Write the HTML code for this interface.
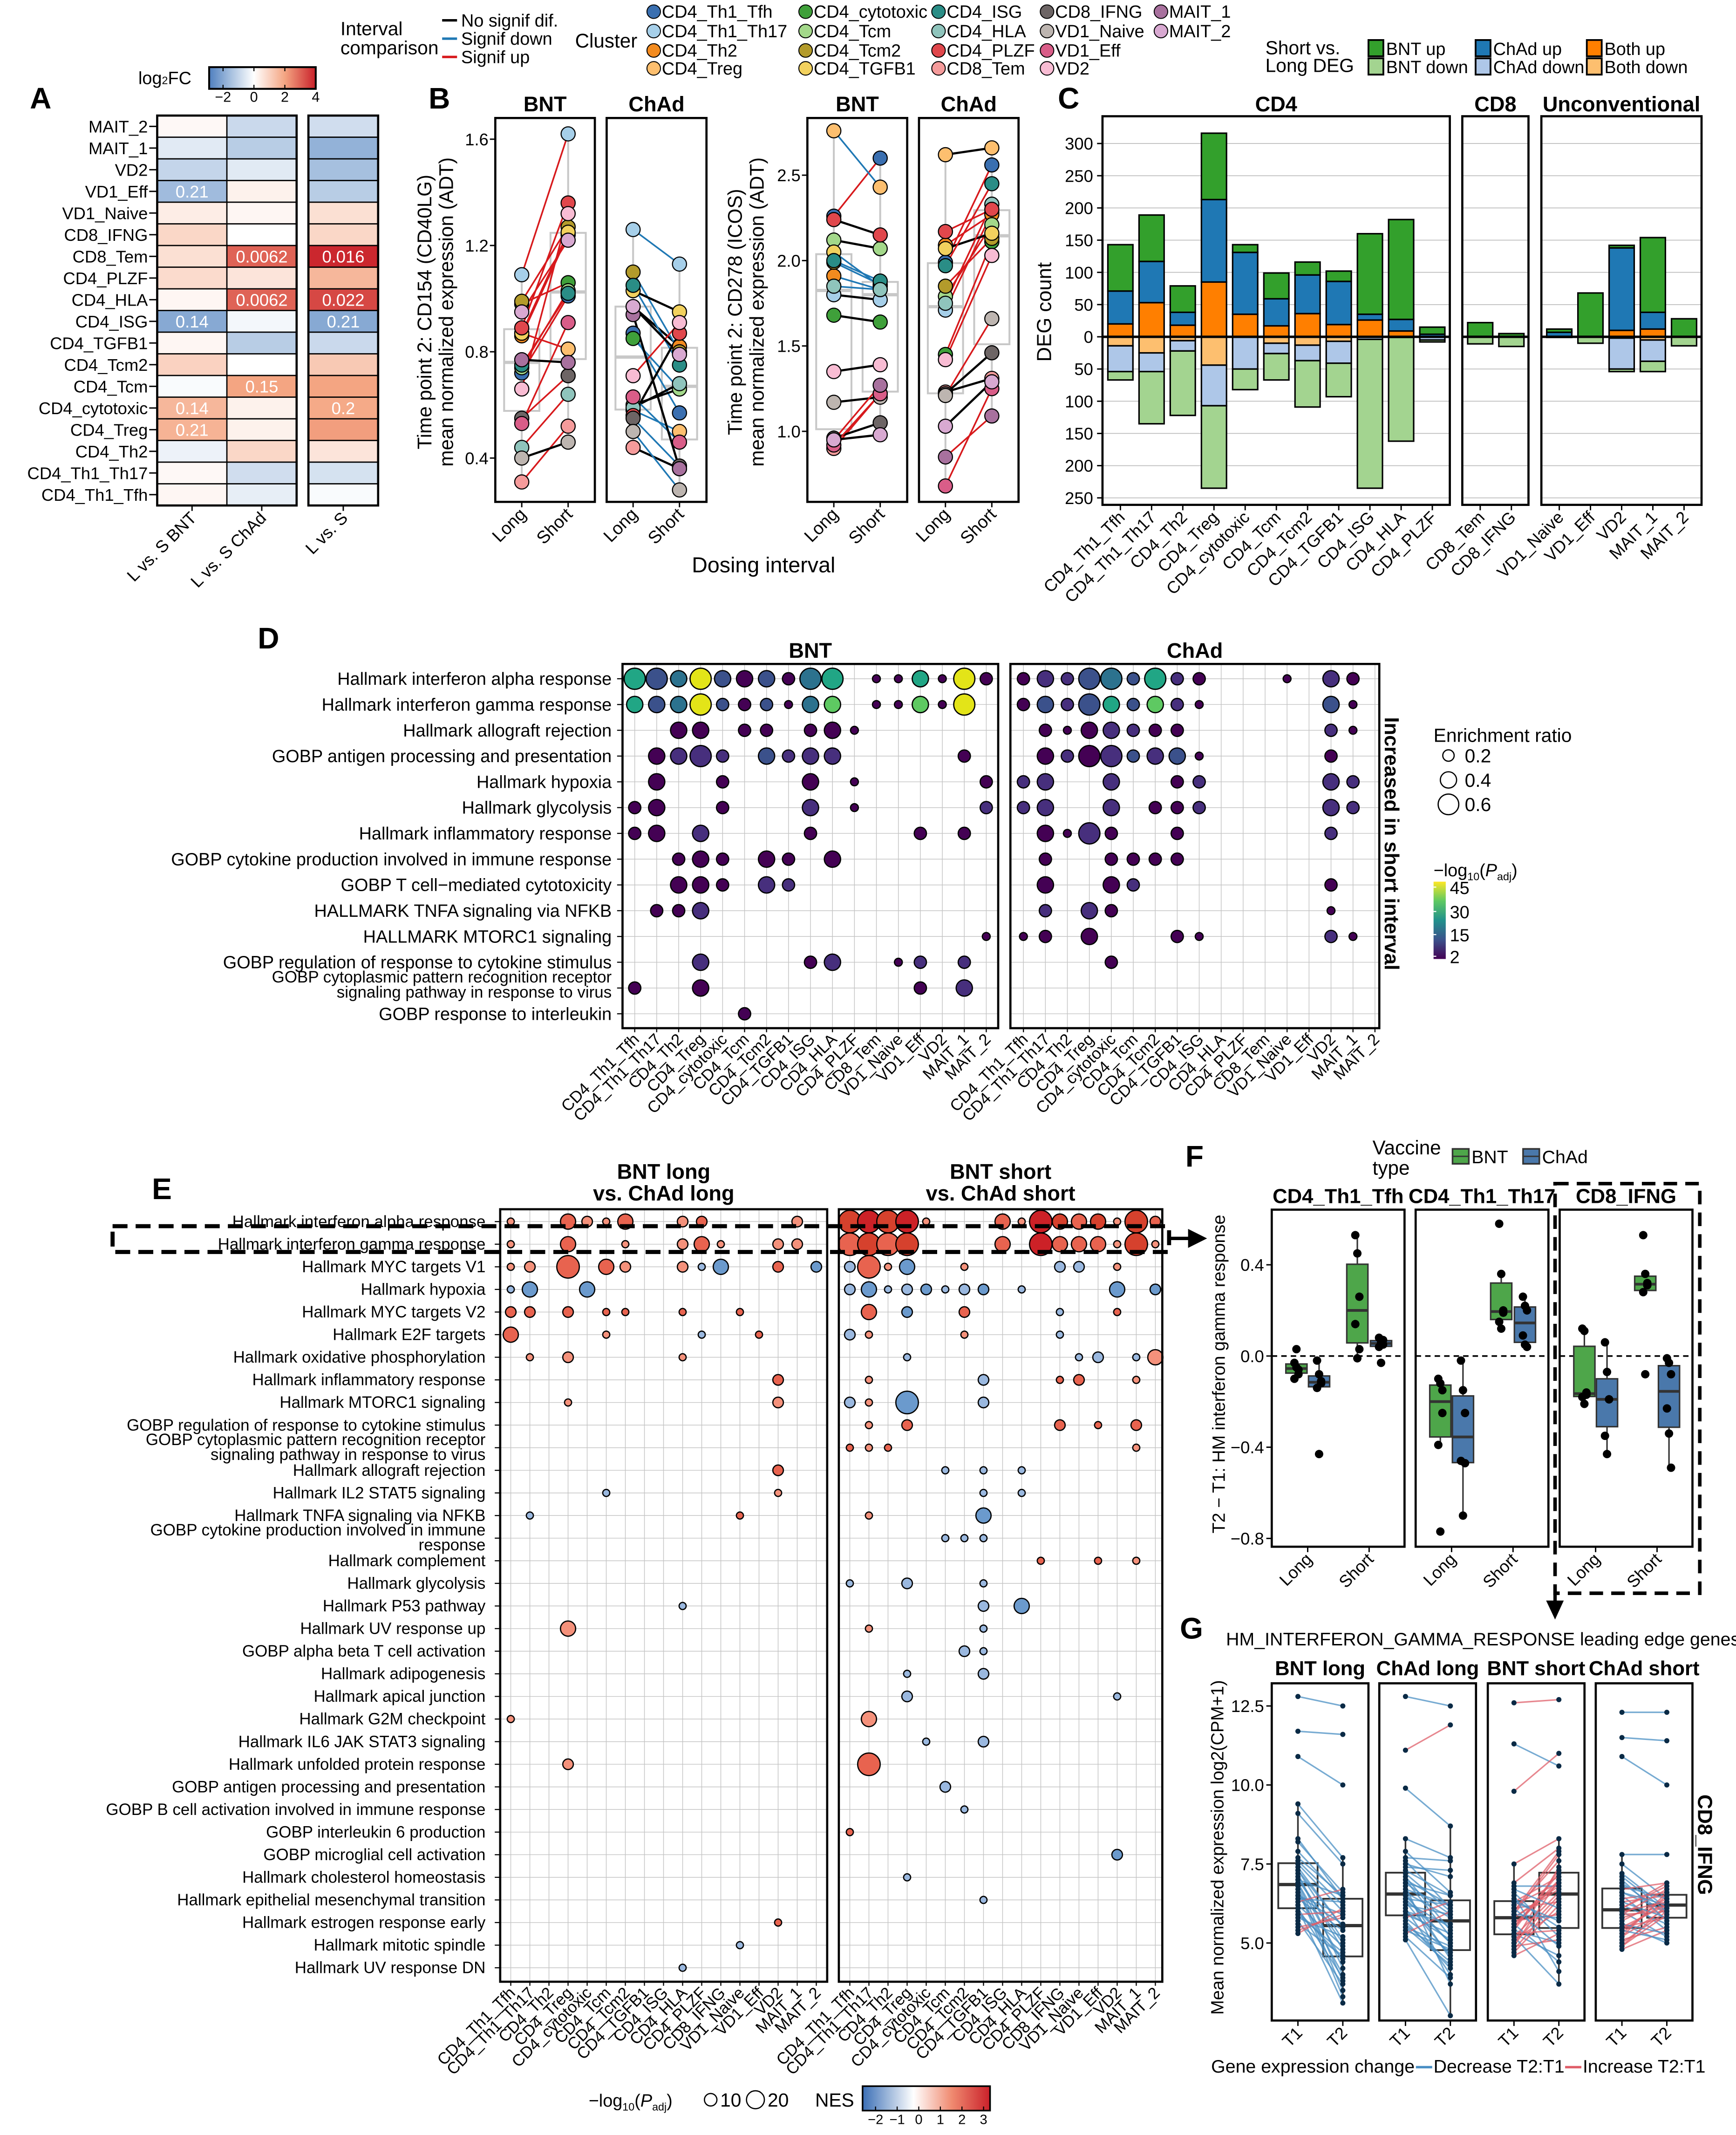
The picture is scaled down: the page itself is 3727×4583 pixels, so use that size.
<!DOCTYPE html>
<html><head><meta charset="utf-8">
<style>
html,body{margin:0;padding:0;background:#fff;}
svg{display:block;font-family:"Liberation Sans Narrow","Liberation Sans",sans-serif;}
.n{font-family:"Liberation Sans Narrow","Liberation Sans",sans-serif;}
.w{font-family:"Liberation Sans",sans-serif;}
</style></head>
<body>
<svg id="fig" xmlns="http://www.w3.org/2000/svg" width="3727" height="4583" viewBox="0 0 1280 1574">
<rect x="0" y="0" width="1280" height="1574" fill="#fff"/>
</svg>
<script>
// ---------- DATA ----------
const clusterNames=['CD4_Th1_Tfh','CD4_Th1_Th17','CD4_Th2','CD4_Treg','CD4_cytotoxic','CD4_Tcm','CD4_Tcm2','CD4_TGFB1','CD4_ISG','CD4_HLA','CD4_PLZF','CD8_Tem','CD8_IFNG','VD1_Naive','VD1_Eff','VD2','MAIT_1','MAIT_2'];
const clusterColors=['#3a6fb0','#a6cfe9','#f38b1f','#fdbf6f','#3fa03a','#a3d88a','#b39b2b','#f2d15e','#2a8d86','#8fc4bc','#e0474c','#f59b9b','#6d6565','#bdb5b0','#d95d88','#f8bcd3','#a8719e','#d8a9d1'];

// Panel A
const aRows=['MAIT_2','MAIT_1','VD2','VD1_Eff','VD1_Naive','CD8_IFNG','CD8_Tem','CD4_PLZF','CD4_HLA','CD4_ISG','CD4_TGFB1','CD4_Tcm2','CD4_Tcm','CD4_cytotoxic','CD4_Treg','CD4_Th2','CD4_Th1_Th17','CD4_Th1_Tfh'];
const aCols=['L vs. S BNT','L vs. S ChAd','L vs. S'];
const aBNT=[0.15,-0.5,-1.0,-1.6,0.4,0.9,0.7,0.8,0.2,-2.0,0.2,1.0,-0.1,1.6,1.7,-0.3,0.15,0.2];
const aChAd=[-0.9,-1.2,-0.5,0.3,0.2,0.0,3.0,0.6,3.0,-0.2,-1.2,0.0,2.0,0.3,0.3,0.9,-0.8,-0.4];
const aAll=[-0.8,-1.8,-1.5,-1.2,0.7,0.9,3.9,1.6,3.4,-2.0,-0.9,1.2,2.0,1.9,2.1,0.6,-0.7,-0.1];
const aP1=['','','','0.21','','','','','','0.14','','','','0.14','0.21','','',''];
const aP2=['','','','','','','0.0062','','0.0062','','','','0.15','','','','',''];
const aP3=['','','','','','','0.016','','0.022','0.21','','','','0.2','','','',''];
const aTicks=[-2,0,2,4];

// Panel B
const b1Long=[0.72,1.09,0.86,0.87,0.98,0.74,0.99,0.87,0.75,0.44,0.89,0.31,0.55,0.40,0.53,0.66,0.77,0.95];
const b1Short=[1.01,1.62,1.24,0.81,1.06,1.03,1.27,1.25,1.02,0.64,1.36,0.52,0.71,0.46,0.91,1.32,0.76,1.22];
const b1Type=['u','u','u','u','u','u','u','u','u','u','u','u','u','n','u','u','n','u'];
const b2Long=[0.87,1.26,0.97,0.58,0.85,0.60,1.10,1.03,1.05,0.59,0.56,0.44,0.55,0.50,0.63,0.71,0.94,0.97];
const b2Short=[0.57,1.13,0.82,0.50,0.66,0.66,0.80,0.95,0.75,0.68,0.87,0.36,0.37,0.28,0.46,0.91,0.36,0.79];
const b2Type=['d','d','n','d','d','n','d','n','d','n','n','n','d','d','d','u','n','n'];
const b3Long=[2.26,1.80,1.91,2.76,1.68,2.12,1.99,2.05,2.00,1.85,2.24,0.90,0.96,1.17,0.92,1.35,0.95,0.95];
const b3Short=[2.60,1.77,1.83,2.43,1.64,2.07,1.86,1.85,1.88,1.83,2.15,1.22,1.05,1.20,1.22,1.39,1.27,0.98];
const b3Type=['u','n','d','d','n','n','d','d','d','d','n','u','n','n','u','n','u','n'];
const b4Long=[1.99,1.71,2.09,2.62,1.45,1.79,1.85,2.07,1.97,1.75,2.17,1.23,1.22,1.21,0.68,1.42,0.85,1.03];
const b4Short=[2.56,2.28,2.27,2.66,2.11,2.21,2.13,2.16,2.45,2.33,2.30,1.31,1.46,1.66,1.25,2.03,1.09,1.29];
const b4Type=['u','u','u','n','u','u','u','n','u','u','u','n','n','u','u','u','u','n'];
const b1Ticks=[0.4,0.8,1.2,1.6];
const b2Ticks=[1.0,1.5,2.0,2.5];

// Panel C
const cCats=['CD4_Th1_Tfh','CD4_Th1_Th17','CD4_Th2','CD4_Treg','CD4_cytotoxic','CD4_Tcm','CD4_Tcm2','CD4_TGFB1','CD4_ISG','CD4_HLA','CD4_PLZF','CD8_Tem','CD8_IFNG','VD1_Naive','VD1_Eff','VD2','MAIT_1','MAIT_2'];
const cUpBoth=[20,53,18,85,35,17,36,19,26,9,0,0,0,0,0,10,12,0];
const cUpChAd=[51,64,20,128,96,42,60,67,9,18,4,0,0,7,0,128,26,0];
const cUpBNT=[72,72,41,103,12,40,20,16,125,155,11,22,5,5,68,4,116,28];
const cDnBoth=[14,25,6,44,0,10,13,7,0,0,0,0,0,0,0,2,5,0];
const cDnChAd=[40,29,16,63,50,16,24,34,4,1,5,0,0,0,0,48,33,0];
const cDnBNT=[13,81,100,128,32,41,72,52,231,161,3,11,15,1,10,4,16,14];
const cUpTicks=[0,50,100,150,200,250,300];
const cDnTicks=[50,100,150,200,250];

// Panel D
const dCols=['CD4_Th1_Tfh','CD4_Th1_Th17','CD4_Th2','CD4_Treg','CD4_cytotoxic','CD4_Tcm','CD4_Tcm2','CD4_TGFB1','CD4_ISG','CD4_HLA','CD4_PLZF','CD8_Tem','VD1_Naive','VD1_Eff','VD2','MAIT_1','MAIT_2'];
const dRows=['Hallmark interferon alpha response','Hallmark interferon gamma response','Hallmark allograft rejection','GOBP antigen processing and presentation','Hallmark hypoxia','Hallmark glycolysis','Hallmark inflammatory response','GOBP cytokine production involved in immune response','GOBP T cell\u2212mediated cytotoxicity','HALLMARK TNFA signaling via NFKB','HALLMARK MTORC1 signaling','GOBP regulation of response to cytokine stimulus','GOBP cytoplasmic pattern recognition receptor|signaling pathway in response to virus','GOBP response to interleukin'];
const dBNT=[
"0:4n 1:4i 2:3t 3:4y 4:3i 5:3p 6:3i 7:2p 8:4t 9:4n 11:1p 12:1p 13:3n 14:1p 15:4y 16:2p",
"0:3n 1:3i 2:3t 3:4y 4:2i 5:2p 6:2i 7:1p 8:3t 9:3g 11:1p 12:1p 13:3g 14:1p 15:4y",
"2:3p 3:3p 5:2p 6:2p 8:2p 9:3p 10:1p",
"1:3p 2:3v 3:4v 4:2v 6:3i 7:2v 8:3v 9:3v 15:2p",
"1:3p 4:2p 8:3p 10:1p 16:2p",
"0:2p 1:3p 4:2p 8:3v 10:1p 16:2v",
"0:2p 1:3p 3:3v 8:2p 13:2p 15:2p",
"2:2p 3:3p 4:2p 6:3p 7:2p 9:3p",
"2:3p 3:3p 4:2p 6:3v 7:2v",
"1:2p 2:2p 3:3v",
"16:1p",
"3:3v 8:2p 9:3v 12:1p 13:2v 15:2v",
"0:2p 3:3p 13:2p 15:3v",
"5:2p"];
const dChAd=[
"0:2p 1:3v 2:2v 3:4i 4:4t 5:2i 6:4n 7:2v 8:2p 12:1p 14:3v 15:2p",
"0:2p 1:3i 2:2v 3:4i 4:3n 5:2i 6:3g 7:2v 8:1p 14:3i 15:1p",
"1:2p 2:1p 3:3p 4:3v 5:2v 6:2p 7:2p 14:2v 15:1p",
"1:3p 2:2v 3:4p 4:4v 5:2i 6:3v 7:3i 8:1p 14:2p",
"0:2v 1:3v 4:3v 7:2p 8:2v 14:3v 15:2v",
"0:2v 1:3v 4:3v 6:2p 7:2p 8:2v 14:3v 15:2v",
"1:3p 2:1p 3:4v 4:2p 7:2p 14:2v",
"1:2p 4:2p 5:2p 6:2p 7:2p",
"1:3p 4:3p 5:2v 14:2p",
"1:2v 3:3v 4:2p 14:1p",
"0:1p 1:2p 3:3p 7:2p 8:1p 14:2v 15:1p",
"4:2p","",""];

// Panel E
const eCols=['CD4_Th1_Tfh','CD4_Th1_Th17','CD4_Th2','CD4_Treg','CD4_cytotoxic','CD4_Tcm','CD4_Tcm2','CD4_TGFB1','CD4_ISG','CD4_HLA','CD4_PLZF','CD8_IFNG','VD1_Naive','VD1_Eff','VD2','MAIT_1','MAIT_2'];
const eRows=['Hallmark interferon alpha response','Hallmark interferon gamma response','Hallmark MYC targets V1','Hallmark hypoxia','Hallmark MYC targets V2','Hallmark E2F targets','Hallmark oxidative phosphorylation','Hallmark inflammatory response','Hallmark MTORC1 signaling','GOBP regulation of response to cytokine stimulus','GOBP cytoplasmic pattern recognition receptor|signaling pathway in response to virus','Hallmark allograft rejection','Hallmark IL2 STAT5 signaling','Hallmark TNFA signaling via NFKB','GOBP cytokine production involved in immune|response','Hallmark complement','Hallmark glycolysis','Hallmark P53 pathway','Hallmark UV response up','GOBP alpha beta T cell activation','Hallmark adipogenesis','Hallmark apical junction','Hallmark G2M checkpoint','Hallmark IL6 JAK STAT3 signaling','Hallmark unfolded protein response','GOBP antigen processing and presentation','GOBP B cell activation involved in immune response','GOBP interleukin 6 production','GOBP microglial cell activation','Hallmark cholesterol homeostasis','Hallmark epithelial mesenchymal transition','Hallmark estrogen response early','Hallmark mitotic spindle','Hallmark UV response DN'];
const eLong=[
"0:1a 3:3r 4:2a 5:1a 6:3r 9:2a 10:2r 15:2a",
"0:1a 3:3r 6:1a 9:2a 10:3r 11:1a 14:2a 15:2a",
"0:1a 1:2a 3:4r 5:3r 6:2a 9:2a 10:1l 11:3b 14:2r 16:2b",
"0:1l 1:3b 4:3b",
"0:2r 1:2r 3:2r 5:1r 6:1r 9:1r 12:1r",
"0:3r 5:1a 10:1l 13:1r",
"1:1a 3:2a 9:1a",
"14:2r",
"3:1a 14:2a",
"",
"",
"14:2r",
"5:1l 14:1a",
"1:1l 12:1r",
"","","",
"9:1l",
"3:3a",
"","","",
"0:1a",
"",
"3:2a",
"","","","","","",
"14:1r",
"12:1l",
"9:1l"];
const eShort=[
"0:4d 1:4D 2:4d 3:4D 4:1a 8:3r 9:1a 10:4D 11:3d 12:3r 13:3d 14:1a 15:4d 16:2r",
"0:4r 1:4d 2:4r 3:4d 8:3r 10:4D 11:3r 12:3r 13:3r 14:1a 15:4d 16:1a",
"0:2l 1:4r 2:1a 3:3b 6:1a 11:2l 12:2l 14:1a",
"0:2l 1:3b 2:1l 3:2l 4:2b 5:1l 6:2l 7:2b 9:1l 14:3b 16:2b",
"1:3r 3:2b 6:2r 11:1l 14:1r",
"0:2l 1:1a 6:1a 11:1l",
"3:1l 12:1l 13:2l 15:1l 16:3a",
"1:1a 7:2l 11:1r 12:2r 15:1a",
"0:2l 1:1a 3:4b 7:2l",
"1:1a 3:2r 11:2r 13:1r 15:2r",
"0:1r 1:1a 2:1r 15:1a",
"5:1l 7:1l 9:1l",
"7:1l 9:1l",
"1:1a 7:3b",
"5:1l 6:1l 7:1l",
"10:1r 13:1r 15:1a",
"0:1l 3:2l 7:1l",
"7:2l 9:3b",
"1:1a 7:1l",
"6:2l 7:1l",
"3:1l 7:2l",
"3:2l 14:1l",
"1:3a",
"4:1l 7:2l",
"1:4r",
"5:2l",
"6:1l",
"0:1r",
"14:2b",
"3:1l",
"7:1l",
"","",""];

// Panel F
const fPanels=['CD4_Th1_Tfh','CD4_Th1_Th17','CD8_IFNG'];
const fBNTLong=[[-0.03,-0.05,-0.08,-0.10,0.03,-0.06],[-0.10,-0.12,-0.25,-0.39,-0.77,-0.15],[0.12,0.11,-0.16,-0.18,-0.21,-0.17]];
const fChAdLong=[[-0.02,-0.08,-0.12,-0.14,-0.43,-0.11],[-0.02,-0.15,-0.25,-0.46,-0.70,-0.47],[0.06,-0.07,-0.19,-0.35,-0.43,-0.19]];
const fBNTShort=[[0.53,0.45,0.26,0.14,-0.01,0.03],[0.58,0.36,0.20,0.15,0.12,0.19],[0.53,0.36,0.32,0.28,-0.08,0.31]];
const fChAdShort=[[0.08,0.06,0.05,0.04,-0.03,0.07],[0.26,0.22,0.20,0.09,0.05,0.04],[-0.01,-0.03,-0.08,-0.23,-0.34,-0.49]];
const fTicks=[0.4,0.0,-0.4,-0.8];

// Panel G
const gPanels=['BNT long','ChAd long','BNT short','ChAd short'];
const gT1=[
[12.8,11.7,10.9,9.4,9.1,8.3,8.2,7.9,7.7,7.6,7.5,7.4,7.3,7.2,7.1,7.0,6.9,6.9,6.8,6.7,6.6,6.5,6.4,6.4,6.3,6.2,6.1,6.0,5.9,5.8,5.7,5.6,5.5,5.4,5.3,7.0,6.5,6.1,5.9,7.3],
[12.8,11.1,9.9,8.3,7.7,7.6,7.4,7.3,7.2,7.1,7.0,6.9,6.8,6.7,6.6,6.5,6.4,6.3,6.2,6.1,6.0,5.9,5.8,5.7,5.6,5.5,5.4,5.3,5.2,5.1,7.9,6.6,6.0,5.8,6.9,7.5,6.3,5.5,7.0,6.4],
[12.6,11.3,9.8,7.5,6.9,6.3,6.2,6.1,6.0,5.9,5.8,5.7,5.6,5.5,5.4,5.3,5.2,5.1,5.0,4.9,4.8,4.6,6.8,6.6,6.5,6.4,5.8,5.6,5.2,6.0,5.5,4.7,5.0,6.3,5.9,5.4,6.1,6.7,5.3,4.9],
[12.3,11.5,10.9,7.8,7.5,7.2,6.9,6.6,6.5,6.4,6.3,6.2,6.1,6.0,5.9,5.8,5.7,5.6,5.5,5.4,5.3,5.2,5.1,5.0,4.9,4.8,7.0,6.8,6.7,6.3,5.6,5.4,5.9,6.1,6.6,5.2,4.9,7.1,6.0,5.5]];
const gT2=[
[12.5,11.6,10.0,7.7,7.5,6.4,6.6,6.4,6.5,6.2,6.0,5.5,5.1,4.2,4.8,5.0,4.4,3.8,3.5,3.3,4.0,5.9,6.3,5.4,6.7,4.9,3.1,4.5,6.0,5.2,3.7,4.6,5.8,5.9,6.1,6.5,5.6,3.9,4.7,5.5],
[12.5,11.9,8.7,7.7,7.6,6.1,7.3,6.5,6.0,5.4,5.2,5.9,3.7,6.2,4.5,5.0,6.2,4.6,5.9,4.0,5.6,5.3,6.3,4.2,4.4,4.9,4.8,6.0,3.9,2.7,6.6,5.8,5.1,4.7,6.5,7.1,5.5,4.3,6.2,5.0],
[12.7,10.6,11.0,8.3,8.0,7.1,6.9,6.3,7.6,7.8,6.8,5.9,6.9,7.2,5.0,4.6,6.6,6.0,7.4,5.1,6.4,5.3,6.8,5.2,4.1,5.5,6.7,4.4,3.7,7.9,7.0,6.2,6.5,5.7,5.8,7.3,4.9,6.1,5.4,7.0],
[12.3,11.4,10.0,7.8,6.4,6.1,5.9,6.0,5.4,6.6,6.5,5.6,6.9,5.2,6.0,6.2,6.4,5.0,5.8,6.3,6.5,6.1,5.5,6.0,6.2,5.4,5.7,6.4,6.9,5.8,5.3,5.1,6.7,6.8,6.2,6.6,5.9,6.0,6.3,6.2]];
const gTicks=[5.0,7.5,10.0,12.5];

// ---------- HELPERS ----------
const NS='http://www.w3.org/2000/svg';
const svg=document.getElementById('fig');
function el(tag,attrs,name,parent){
  const e=document.createElementNS(NS,tag);
  for(const k in attrs) e.setAttribute(k,attrs[k]);
  
  
  (parent||svg).appendChild(e);
  return e;
}
function tx(x,y,s,size,name,opt){
  const a=Object.assign({x:x,y:y,'font-size':size},opt||{});
  const e=el('text',a,name);
  e.textContent=s;
  return e;
}
function rot(x,y,s,size,name,opt,ang){
  const a=Object.assign({x:0,y:0,'font-size':size,transform:`translate(${x},${y}) rotate(${ang})`},opt||{});
  const e=el('text',a,name);
  e.textContent=s;
  return e;
}
function line(x1,y1,x2,y2,stroke,w,name,extra){
  return el('line',Object.assign({x1,y1,x2,y2,stroke,'stroke-width':w},extra||{}),name);
}
function rect(x,y,w,h,fill,stroke,sw,name){
  return el('rect',{x,y,width:w,height:h,fill,stroke:stroke||'none','stroke-width':sw||0},name);
}
function circ(cx,cy,r,fill,name,sw){
  return el('circle',{cx,cy,r,fill,stroke:'#000','stroke-width':sw==null?0.8:sw},name);
}
function quant(a,p){const s=[...a].sort((x,y)=>x-y);const h=(s.length-1)*p;const l=Math.floor(h);const u=Math.min(l+1,s.length-1);return s[l]+(s[u]-s[l])*(h-l);}
function hexmix(c1,c2,t){const p=c=>[parseInt(c.substr(1,2),16),parseInt(c.substr(3,2),16),parseInt(c.substr(5,2),16)];const a=p(c1),b=p(c2);return 'rgb('+a.map((v,i)=>Math.round(v+(b[i]-v)*t)).join(',')+')';}
function parseDots(s){if(!s)return[];return s.trim().split(/\s+/).map(t=>{const [c,v]=t.split(':');return {col:+c,size:+v[0],col2:v.substr(1)};});}
const lineCols={u:'#d7191c',d:'#1f78b4',n:'#000'};

// ---------- PANEL LETTERS ----------
[['A',22,80],['B',316,80],['C',780,80],['D',190,478],['E',112,884],['F',874,860],['G',870,1208]].forEach(p=>{
  tx(p[1],p[2],p[0],22,'panel-label-'+p[0].toLowerCase(),{'font-weight':'bold',class:'w'});
});

// ---------- HEADER LEGENDS ----------
tx(251,26,'Interval',14,'interval-legend-title-1');
tx(251,40,'comparison',14,'interval-legend-title-2');
[['No signif dif.','#000',15],['Signif down','#1f78b4',28.5],['Signif up','#d7191c',42]].forEach((r,i)=>{
  line(326,r[2],337,r[2],r[1],1.8,'interval-legend-line-'+i);
  tx(340,r[2]+4.5,r[0],13,'interval-legend-label-'+i);
});
tx(424,35,'Cluster',14.5,'cluster-legend-title');
const legColX=[482,594,692,772,856];
const legRowY=[8.6,22.9,37.2,50.4];
const legOrder=[[0,1,2,3],[4,5,6,7],[8,9,10,11],[12,13,14,15],[16,17]];
legOrder.forEach((col,ci)=>col.forEach((k,ri)=>{
  circ(legColX[ci],legRowY[ri],5,clusterColors[k],'cluster-legend-swatch-'+clusterNames[k],0.7);
  tx(legColX[ci]+6,legRowY[ri]+4.5,clusterNames[k],13,'cluster-legend-label-'+clusterNames[k]);
}));
tx(933,40,'Short vs.',14,'deg-legend-title-1');
tx(933,53,'Long DEG',14,'deg-legend-title-2');
const degLeg=[['BNT up','#33a02c',1009,35.5],['ChAd up','#1f78b4',1088,35.5],['Both up','#ff7f00',1170,35.5],['BNT down','#a3d490',1009,49],['ChAd down','#aec7e8',1088,49],['Both down','#fdbf6f',1170,49]];
degLeg.forEach((d,i)=>{
  rect(d[2],d[3]-6,11,12,d[1],'#000',1.3,'deg-legend-swatch-'+i);
  tx(d[2]+13,d[3]+5,d[0],13,'deg-legend-label-'+i);
});

// ---------- PANEL A ----------
(function(){
  const colX=[115.9,167.3,227.4], colW=51.4, top=85.2, h=15.97;
  const vals=[aBNT,aChAd,aAll], labs=[aP1,aP2,aP3];
  function col(v){ if(v>=0){const t=Math.min(1,v/4); return t<0.5?hexmix('#ffffff','#f4a582',t/0.5):hexmix('#f4a582','#c9202a',(t-0.5)/0.5);} const t=Math.min(1,-v/2.9); return t<0.5?hexmix('#ffffff','#a9c2e0',t/0.5):hexmix('#a9c2e0','#4f7fbf',(t-0.5)/0.5);}
  aRows.forEach((r,i)=>{
    const y=top+i*h;
    tx(109,y+h/2+4.5,r,12.5,'heatmap-row-label-'+r,{'text-anchor':'end',class:'w'});
    line(110,y+h/2,115.9,y+h/2,'#000',1,'heatmap-row-tick-'+i);
    for(let c=0;c<3;c++){
      rect(colX[c],y,colW,h,col(vals[c][i]),'#000',0.9,'heatmap-cell');
      if(labs[c][i]) tx(colX[c]+colW/2,y+h/2+4.5,labs[c][i],12.5,'heatmap-cell-pvalue',{'text-anchor':'middle',fill:'#fff',class:'w'});
    }
  });
  rect(colX[0],top,colW*2,h*18,'none','#000',1.6,'heatmap-border-left');
  rect(colX[2],top,colW,h*18,'none','#000',1.6,'heatmap-border-right');
  aCols.forEach((c,i)=>{
    const cx=colX[i]+colW/2;
    line(cx,top+h*18,cx,top+h*18+4,'#000',1,'heatmap-col-tick-'+i);
    rot(cx+4,top+h*18+10,c,12.5,'heatmap-col-label-'+i,{'text-anchor':'end',class:'w'},-45);
  });
  const gd=el('defs',{},'heatmap-defs');
  const lg=el('linearGradient',{id:'gA',x1:0,x2:1,y1:0,y2:0},'heatmap-gradient',gd);
  [[0,'#4f7fbf'],[0.21,'#a9c2e0'],[0.42,'#ffffff'],[0.71,'#f4a582'],[1,'#c9202a']].forEach(s=>el('stop',{offset:s[0],'stop-color':s[1]},'gradient-stop',lg));
  const bx=154.2,bw=78.6;
  rect(bx,49.5,bw,16,'url(#gA)','#000',1.4,'log2fc-colorbar');
  aTicks.forEach(t=>{const x=bx+(t+2.9)/6.9*bw;
    line(x,49.5,x,52.5,'#000',0.8,'colorbar-tick-top');line(x,62.5,x,65.5,'#000',0.8,'colorbar-tick-bottom');
    tx(x,75,t<0?'\u2212'+(-t):String(t),10.5,'colorbar-tick-label',{'text-anchor':'middle',class:'w'});});
  const lt=tx(102,62,'log',13,'log2fc-title',{class:'w'});
  const ts=el('tspan',{'font-size':8,dy:0},'log2fc-sub',lt);ts.textContent='2';
  const ts2=el('tspan',{},'log2fc-rest',lt);ts2.textContent='FC';
})();

// ---------- PANEL B ----------
(function(){
  const panels=[
    {left:365.2,right:438.6,title:'BNT',L:b1Long,S:b1Short,T:b1Type,ax:1},
    {left:447.3,right:520.9,title:'ChAd',L:b2Long,S:b2Short,T:b2Type,ax:1},
    {left:595.3,right:668.9,title:'BNT',L:b3Long,S:b3Short,T:b3Type,ax:2},
    {left:677.6,right:751,title:'ChAd',L:b4Long,S:b4Short,T:b4Type,ax:2}];
  const top=87,bot=370;
  const y1=v=>337.7-(v-0.4)*195.9;
  const y2=v=>318-(v-1)*125.9;
  panels.forEach((p,pi)=>{
    const yf=p.ax===1?y1:y2;
    const xl=p.left+19.5, xs=p.left+53.7;
    rect(p.left,top,p.right-p.left,bot-top,'none','#000',1.6,'paired-plot-frame-'+pi);
    tx((p.left+p.right)/2,82,p.title,15.5,'paired-plot-title-'+pi,{'text-anchor':'middle','font-weight':'bold'});
    [[p.L,xl],[p.S,xs]].forEach(g=>{
      const q1=quant(g[0],0.25),md=quant(g[0],0.5),q3=quant(g[0],0.75),mn=Math.min(...g[0]),mx=Math.max(...g[0]);
      line(g[1],yf(mx),g[1],yf(q3),'#c8c8c8',1.4,'paired-box-whisker');
      line(g[1],yf(q1),g[1],yf(mn),'#c8c8c8',1.4,'paired-box-whisker');
      rect(g[1]-13,yf(q3),26,yf(q1)-yf(q3),'none','#c8c8c8',1.4,'paired-box');
      line(g[1]-13,yf(md),g[1]+13,yf(md),'#c8c8c8',2.4,'paired-box-median');
    });
    p.L.forEach((v,i)=>line(xl,yf(v),xs,yf(p.S[i]),lineCols[p.T[i]],p.T[i]==='n'?1.6:1.2,'paired-line-'+clusterNames[i]));
    p.L.forEach((v,i)=>circ(xl,yf(v),5.2,clusterColors[i],'paired-point-long-'+clusterNames[i]));
    p.S.forEach((v,i)=>circ(xs,yf(v),5.2,clusterColors[i],'paired-point-short-'+clusterNames[i]));
    [['Long',xl],['Short',xs]].forEach(t=>{
      line(t[1],bot,t[1],bot+4,'#000',1,'paired-x-tick');
      rot(t[1]+4,bot+10,t[0],13,'paired-x-label',{'text-anchor':'end',class:'w'},-45);
    });
    if(pi===0||pi===2){
      const ticks=p.ax===1?b1Ticks:b2Ticks;
      ticks.forEach(t=>{line(p.left-4,yf(t),p.left,yf(t),'#000',1,'paired-y-tick');
        tx(p.left-5,yf(t)+4.5,t.toFixed(1),12.5,'paired-y-tick-label',{'text-anchor':'end'});});
    }
  });
  rot(318,230,'Time point 2: CD154 (CD40LG)',14.5,'b-y-title-1',{'text-anchor':'middle',class:'w'},-90);
  rot(334,230,'mean normalized expression (ADT)',14.5,'b-y-title-2',{'text-anchor':'middle',class:'w'},-90);
  rot(547,230,'Time point 2: CD278 (ICOS)',14.5,'b-y-title-3',{'text-anchor':'middle',class:'w'},-90);
  rot(563,230,'mean normalized expression (ADT)',14.5,'b-y-title-4',{'text-anchor':'middle',class:'w'},-90);
  tx(563,422,'Dosing interval',16,'b-x-title',{'text-anchor':'middle',class:'w'});
})();

// ---------- PANEL C ----------
(function(){
  const y0=248.3,k=0.475,top=85.7,bot=372.2;
  const groups=[{name:'CD4',l:812.9,r:1069,from:0,to:10},{name:'CD8',l:1078.2,r:1127,from:11,to:12},{name:'Unconventional',l:1136.5,r:1254.6,from:13,to:17}];
  const Y=v=>y0-v*k;
  groups.forEach(g=>{
    cUpTicks.forEach(t=>{if(t>0)line(g.l,Y(t),g.r,Y(t),'#bdbdbd',0.6,'deg-gridline');});
    cDnTicks.forEach(t=>line(g.l,Y(-t),g.r,Y(-t),'#bdbdbd',0.6,'deg-gridline'));
    for(let i=g.from;i<=g.to;i++){
      const cx=g.l+13.2+(i-g.from)*23, w=18.5, x=cx-w/2;
      let acc=0;
      [[cUpBoth[i],'#ff7f00'],[cUpChAd[i],'#1f78b4'],[cUpBNT[i],'#33a02c']].forEach(s=>{
        if(s[0]>0){rect(x,Y(acc+s[0]),w,s[0]*k,s[1],'#000',1.1,'deg-bar-up-'+cCats[i]);}
        acc+=s[0];});
      acc=0;
      [[cDnBoth[i],'#fdbf6f'],[cDnChAd[i],'#aec7e8'],[cDnBNT[i],'#a3d490']].forEach(s=>{
        if(s[0]>0){rect(x,Y(-acc),w,s[0]*k,s[1],'#000',1.1,'deg-bar-down-'+cCats[i]);}
        acc+=s[0];});
      line(cx,bot,cx,bot+4,'#000',1,'deg-x-tick');
      rot(cx+4,bot+10,cCats[i],12.5,'deg-x-label-'+cCats[i],{'text-anchor':'end',class:'w'},-45);
    }
    line(g.l,y0,g.r,y0,'#000',1.8,'deg-zero-line');
    rect(g.l,top,g.r-g.l,bot-top,'none','#000',1.6,'deg-panel-frame-'+g.name);
    tx((g.l+g.r)/2,82,g.name,15.5,'deg-panel-title-'+g.name,{'text-anchor':'middle','font-weight':'bold'});
  });
  cUpTicks.forEach(t=>{line(808.9,Y(t),812.9,Y(t),'#000',1,'deg-y-tick');tx(806,Y(t)+4.5,String(t),12.5,'deg-y-tick-label',{'text-anchor':'end'});});
  cDnTicks.forEach(t=>{line(808.9,Y(-t),812.9,Y(-t),'#000',1,'deg-y-tick');tx(806,Y(-t)+4.5,String(t),12.5,'deg-y-tick-label',{'text-anchor':'end'});});
  rot(775,230,'DEG count',15,'deg-y-title',{'text-anchor':'middle',class:'w'},-90);
})();

// ---------- PANEL D ----------
(function(){
  const vir={p:'#440154',v:'#472f7d',i:'#3b518b',t:'#2c728e',n:'#21a685',g:'#5ec962',y:'#e3e418'};
  const rad={1:2.9,2:4.5,3:6.0,4:7.8};
  const top=489.5,bot=758,rowY=i=>500.4+19*i;
  const boxes=[{l:459,r:736,x0:468,data:dBNT,title:'BNT'},{l:745,r:1017,x0:754.6,data:dChAd,title:'ChAd'}];
  boxes.forEach(b=>{
    dCols.forEach((c,ci)=>{const x=b.x0+16.2*ci;line(x,top,x,bot,'#c4c4c4',0.5,'enrich-grid-v');
      line(x,bot,x,bot+3,'#000',0.8,'enrich-x-tick');
      rot(x+4,bot+9,c,12,'enrich-x-label-'+c,{'text-anchor':'end',class:'w'},-45);});
    dRows.forEach((r,ri)=>line(b.l,rowY(ri),b.r,rowY(ri),'#c4c4c4',0.5,'enrich-grid-h'));
    b.data.forEach((s,ri)=>parseDots(s).forEach(d=>{
      circ(b.x0+16.2*d.col,rowY(ri),rad[d.size],vir[d.col2],'enrich-dot-'+b.title+'-'+dCols[d.col],0.9);
    }));
    rect(b.l,top,b.r-b.l,bot-top,'none','#000',1.6,'enrich-frame-'+b.title);
    tx((b.l+b.r)/2,485,b.title,15.5,'enrich-title-'+b.title,{'text-anchor':'middle','font-weight':'bold'});
  });
  dRows.forEach((r,ri)=>{
    line(455,rowY(ri),459,rowY(ri),'#000',0.8,'enrich-y-tick');
    if(r.includes('|')){const pr=r.split('|');
      tx(451,rowY(ri)-4,pr[0],12,'enrich-row-label-'+ri,{'text-anchor':'end',class:'w'});
      tx(451,rowY(ri)+7,pr[1],12,'enrich-row-label-'+ri+'-b',{'text-anchor':'end',class:'w'});}
    else tx(451,rowY(ri)+4.5,r,13,'enrich-row-label-'+ri,{'text-anchor':'end',class:'w'});
  });
  rot(1021,622,'Increased in short interval',15,'enrich-side-label',{'text-anchor':'middle','font-weight':'bold'},90);
  tx(1057,547,'Enrichment ratio',14,'enrich-size-legend-title',{class:'w'});
  [[0.2,4.2,557],[0.4,6,575],[0.6,7.6,593]].forEach((s,i)=>{circ(1068,s[2],s[1],'none','size-legend-circle-'+i,0.9);
    tx(1080,s[2]+5,String(s[0]),14,'size-legend-label-'+i,{class:'w'});});
  const t=tx(1057,646,'\u2212log',13,'enrich-color-legend-title',{class:'w'});
  const s1=el('tspan',{'font-size':8,dy:3},'sub',t);s1.textContent='10';
  const s2=el('tspan',{dy:-3},'rest',t);s2.textContent='(';
  const s3=el('tspan',{'font-style':'italic'},'rest',t);s3.textContent='P';
  const s4=el('tspan',{'font-size':8,dy:3},'sub',t);s4.textContent='adj';
  const s5=el('tspan',{dy:-3},'rest',t);s5.textContent=')';
  const gd=el('defs',{},'viridis-defs');
  const lg=el('linearGradient',{id:'gV',x1:0,x2:0,y1:1,y2:0},'viridis-gradient',gd);
  [[0,'#440154'],[0.25,'#3b528b'],[0.5,'#21918c'],[0.75,'#5ec962'],[1,'#fde725']].forEach(s=>el('stop',{offset:s[0],'stop-color':s[1]},'gradient-stop',lg));
  rect(1057,650,9,57,'url(#gV)','none',0,'viridis-colorbar');
  [['45',655],['30',673],['15',690],['2',706]].forEach(l=>{line(1057,l[1]-1,1059,l[1]-1,'#fff',0.8,'cb-tick');tx(1069,l[1]+4,l[0],13,'viridis-tick-label',{class:'w'});});
})();

// ---------- PANEL E ----------
(function(){
  const cols={a:'#f4917b',r:'#e8634f',d:'#d6412d',D:'#cc2127',l:'#9ab8df',b:'#6b9acd'};
  const rad={1:2.6,2:3.9,3:5.6,4:8.3};
  const top=891.5,bot=1461,rowY=i=>900.6+16.67*i;
  const boxes=[{l:368.8,r:609.9,x0:376.6,data:eLong,t1:'BNT long',t2:'vs. ChAd long'},{l:618.5,r:857,x0:626.6,data:eShort,t1:'BNT short',t2:'vs. ChAd short'}];
  boxes.forEach((b,bi)=>{
    eCols.forEach((c,ci)=>{const x=b.x0+14.08*ci;line(x,top,x,bot,'#c4c4c4',0.5,'gsea-grid-v');
      line(x,bot,x,bot+3,'#000',0.8,'gsea-x-tick');
      rot(x+4,bot+9,c,12,'gsea-x-label-'+c,{'text-anchor':'end',class:'w'},-45);});
    eRows.forEach((r,ri)=>line(b.l,rowY(ri),b.r,rowY(ri),'#c4c4c4',0.5,'gsea-grid-h'));
    b.data.forEach((s,ri)=>parseDots(s).forEach(d=>{
      circ(b.x0+14.08*d.col,rowY(ri),rad[d.size],cols[d.col2],'gsea-dot-'+bi+'-'+eCols[d.col],0.9);
    }));
    rect(b.l,top,b.r-b.l,bot-top,'none','#000',1.6,'gsea-frame-'+bi);
    tx((b.l+b.r)/2,869,b.t1,15.5,'gsea-title-'+bi,{'text-anchor':'middle','font-weight':'bold'});
    tx((b.l+b.r)/2,885,b.t2,15.5,'gsea-subtitle-'+bi,{'text-anchor':'middle','font-weight':'bold'});
  });
  eRows.forEach((r,ri)=>{
    line(364.8,rowY(ri),368.8,rowY(ri),'#000',0.8,'gsea-y-tick');
    if(r.includes('|')){const pr=r.split('|');
      tx(358,rowY(ri)-2,pr[0],12,'gsea-row-label-'+ri,{'text-anchor':'end',class:'w'});
      tx(358,rowY(ri)+9,pr[1],12,'gsea-row-label-'+ri+'-b',{'text-anchor':'end',class:'w'});}
    else tx(358,rowY(ri)+4,r,12,'gsea-row-label-'+ri,{'text-anchor':'end',class:'w'});
  });
  rect(83,904,779,19,'none','#000',3,'ifng-highlight-box').setAttribute('stroke-dasharray','11,6');
  line(862,913,878,913,'#000',2.5,'highlight-arrow-shaft');
  el('polygon',{points:'876,906 890,913 876,920',fill:'#000'},'highlight-arrow-head');
  const t=tx(434,1553,'\u2212log',13,'gsea-size-legend-title',{class:'w'});
  const s1=el('tspan',{'font-size':8,dy:3},'sub',t);s1.textContent='10';
  const s2=el('tspan',{dy:-3},'rest',t);s2.textContent='(';
  const s3=el('tspan',{'font-style':'italic'},'rest',t);s3.textContent='P';
  const s4=el('tspan',{'font-size':8,dy:3},'sub',t);s4.textContent='adj';
  const s5=el('tspan',{dy:-3},'rest',t);s5.textContent=')';
  circ(524,1548,4.6,'none','size-legend-10',0.9);tx(531,1553,'10',14,'size-legend-label-10',{class:'w'});
  circ(557,1548,6.6,'none','size-legend-20',0.9);tx(566,1553,'20',14,'size-legend-label-20',{class:'w'});
  tx(601,1553,'NES',14,'nes-legend-title',{class:'w'});
  const gd=el('defs',{},'nes-defs');
  const lg=el('linearGradient',{id:'gN',x1:0,x2:1,y1:0,y2:0},'nes-gradient',gd);
  [[0,'#3b6fb6'],[0.4,'#ffffff'],[0.7,'#f08a70'],[1,'#c9202a']].forEach(s=>el('stop',{offset:s[0],'stop-color':s[1]},'gradient-stop',lg));
  rect(636,1538,94,18,'url(#gN)','#000',1.2,'nes-colorbar');
  [-2,-1,0,1,2,3].forEach(v=>{const x=636+(v+2.6)/5.9*94;line(x,1553,x,1556,'#000',0.8,'nes-tick');
    tx(x,1566,v<0?'\u2212'+(-v):String(v),10,'nes-tick-label',{'text-anchor':'middle',class:'w'});});
})();

// ---------- PANEL F ----------
(function(){
  const lefts=[937.7,1043.8,1150], w=97.9, top=891.8, bot=1140.3;
  const Y=v=>999.7-v*168.1;
  tx(1012,851,'Vaccine',14.5,'vaccine-legend-title-1');
  tx(1012,866,'type',14.5,'vaccine-legend-title-2');
  [['BNT','#4ea64a',1071],['ChAd','#4a78ab',1123]].forEach(v=>{
    rect(v[2],847,12,11,v[1],'#333',1.2,'vaccine-legend-swatch-'+v[0]);
    line(v[2],852.5,v[2]+12,852.5,'#333',1,'vaccine-legend-median');
    tx(v[2]+14,857.5,v[0],13.5,'vaccine-legend-label-'+v[0]);
  });
  fPanels.forEach((p,pi)=>{
    const L=lefts[pi];
    rect(L,top,w,bot-top,'none','#000',1.6,'delta-frame-'+p);
    tx(L+w/2,887,p,15,'delta-title-'+p,{'text-anchor':'middle','font-weight':'bold'});
    line(L,Y(0),L+w,Y(0),'#000',1.2,'delta-zero-line').setAttribute('stroke-dasharray','4,3');
    const groups=[[fBNTLong[pi],18.2,'#4ea64a'],[fChAdLong[pi],34.9,'#4a78ab'],[fBNTShort[pi],63.1,'#4ea64a'],[fChAdShort[pi],80.6,'#4a78ab']];
    groups.forEach(g=>{
      const cx=L+g[1],vals=g[0];
      const q1=quant(vals,0.25),md=quant(vals,0.5),q3=quant(vals,0.75),iqr=q3-q1;
      const lo=Math.min(...vals.filter(v=>v>=q1-1.5*iqr)),hi=Math.max(...vals.filter(v=>v<=q3+1.5*iqr));
      line(cx,Y(hi),cx,Y(q3),'#333',1.1,'delta-whisker');
      line(cx,Y(q1),cx,Y(lo),'#333',1.1,'delta-whisker');
      rect(cx-7.8,Y(q3),15.6,Y(q1)-Y(q3),g[2],'#333',1.1,'delta-box');
      line(cx-7.8,Y(md),cx+7.8,Y(md),'#333',2,'delta-median');
      vals.forEach((v,vi)=>circ(cx+((vi%3)-1)*1.5,Y(v),3.1,'#000','delta-point',0));
    });
    [['Long',L+26.5],['Short',L+71.8]].forEach(t=>{
      line(t[1],bot,t[1],bot+4,'#000',1,'delta-x-tick');
      rot(t[1]+4,bot+10,t[0],12.5,'delta-x-label',{'text-anchor':'end',class:'w'},-45);
    });
  });
  fTicks.forEach(t=>{line(933.7,Y(t),937.7,Y(t),'#000',1,'delta-y-tick');
    tx(932,Y(t)+4.5,(t<0?'\u2212':'')+Math.abs(t).toFixed(1),12.5,'delta-y-tick-label',{'text-anchor':'end'});});
  rot(903,1013,'T2 \u2212 T1: HM interferon gamma response',13,'delta-y-title',{'text-anchor':'middle',class:'w'},-90);
  rect(1146.6,872.6,106.7,302,'none','#000',2.6,'ifng-highlight-box-f').setAttribute('stroke-dasharray','10,6');
  line(1146.6,1175,1146.6,1183,'#000',2.5,'f-arrow-shaft');
  el('polygon',{points:'1140,1180 1153,1180 1146.6,1194',fill:'#000'},'f-arrow-head');
})();

// ---------- PANEL G ----------
(function(){
  const lefts=[937.7,1017,1097,1176.6], w=71.3, top=1241, bot=1489.6;
  const Y=v=>1257.7-(v-12.5)*23.3;
  tx(904,1213,'HM_INTERFERON_GAMMA_RESPONSE leading edge genes',13.5,'g-title');
  gPanels.forEach((p,pi)=>{
    const L=lefts[pi],x1=L+19.3,x2=L+52.4;
    const a=gT1[pi],b=gT2[pi];
    [[a,x1],[b,x2]].forEach(g=>{
      const vals=g[0];const q1=quant(vals,0.25),md=quant(vals,0.5),q3=quant(vals,0.75),iqr=q3-q1;
      const lo=Math.min(...vals.filter(v=>v>=q1-1.5*iqr)),hi=Math.max(...vals.filter(v=>v<=q3+1.5*iqr));
      line(g[1],Y(hi),g[1],Y(q3),'#333',1.2,'gene-whisker');
      line(g[1],Y(q1),g[1],Y(lo),'#333',1.2,'gene-whisker');
      rect(g[1]-14.5,Y(q3),29,Y(q1)-Y(q3),'none','#333',1.3,'gene-box');
      line(g[1]-14.5,Y(md),g[1]+14.5,Y(md),'#333',2.4,'gene-median');
    });
    a.forEach((v,i)=>{const up=b[i]>v;
      line(x1,Y(v),x2,Y(b[i]),up?'#e0606a':'#4a8fc4',1.1,'gene-change-line',{opacity:0.75});});
    a.forEach(v=>circ(x1,Y(v),1.9,'#0a2a45','gene-point-t1',0));
    b.forEach(v=>circ(x2,Y(v),1.9,'#0a2a45','gene-point-t2',0));
    rect(L,top,w,bot-top,'none','#000',1.6,'gene-frame-'+pi);
    tx(L+w/2,1235,p,15,'gene-panel-title-'+pi,{'text-anchor':'middle','font-weight':'bold'});
    [['T1',x1],['T2',x2]].forEach(t=>{
      line(t[1],bot,t[1],bot+4,'#000',1,'gene-x-tick');
      rot(t[1]+4,bot+10,t[0],12.5,'gene-x-label',{'text-anchor':'end',class:'w'},-45);
    });
  });
  gTicks.forEach(t=>{line(933.7,Y(t),937.7,Y(t),'#000',1,'gene-y-tick');
    tx(932,Y(t)+4.5,t.toFixed(1),12.5,'gene-y-tick-label',{'text-anchor':'end'});});
  rot(902,1362,'Mean normalized expression log2(CPM+1)',13,'gene-y-title',{'text-anchor':'middle',class:'w'},-90);
  rot(1252,1360,'CD8_IFNG',15,'gene-strip-label',{'text-anchor':'middle','font-weight':'bold'},90);
  tx(893,1528,'Gene expression change',13.5,'gene-legend-title',{class:'w'});
  line(1044,1524,1056,1524,'#4a8fc4',1.8,'gene-legend-decrease-line');
  tx(1057,1528,'Decrease T2:T1',13.5,'gene-legend-decrease',{class:'w'});
  line(1154,1524,1166,1524,'#e0606a',1.8,'gene-legend-increase-line');
  tx(1167,1528,'Increase T2:T1',13.5,'gene-legend-increase',{class:'w'});
})();
</script>
</body></html>
